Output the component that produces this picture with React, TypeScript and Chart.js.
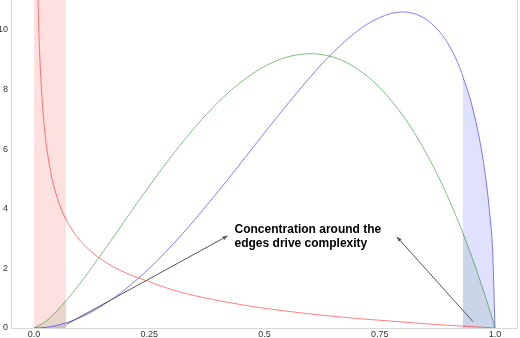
import React, { useEffect, useRef } from "react";
import { Chart, registerables } from "chart.js";

Chart.register(...registerables);

// ---- data ----
const curveX = [0, 0.025, 0.05, 0.07, 0.075, 0.1, 0.125, 0.15, 0.175, 0.2, 0.225, 0.25, 0.275, 0.3, 0.325, 0.35, 0.375, 0.4, 0.425, 0.45, 0.475, 0.5, 0.525, 0.55, 0.575, 0.6, 0.625, 0.65, 0.675, 0.7, 0.725, 0.75, 0.775, 0.8, 0.825, 0.85, 0.875, 0.9, 0.925, 0.93, 0.95, 0.975, 0.99, 0.995, 1];
const greenY = [0, 0.22, 0.58, 0.93, 1.02, 1.5, 2.02, 2.56, 3.11, 3.67, 4.22, 4.76, 5.29, 5.8, 6.28, 6.75, 7.18, 7.58, 7.94, 8.26, 8.54, 8.77, 8.96, 9.09, 9.17, 9.2, 9.17, 9.08, 8.93, 8.7, 8.42, 8.06, 7.63, 7.13, 6.55, 5.89, 5.15, 4.32, 3.4, 3.2, 2.38, 1.26, 0.53, 0.27, 0];
const blueY = [0, 0.02, 0.09, 0.18, 0.2, 0.35, 0.54, 0.77, 1.03, 1.32, 1.65, 2.0, 2.38, 2.79, 3.21, 3.66, 4.12, 4.59, 5.07, 5.56, 6.05, 6.55, 7.03, 7.51, 7.98, 8.43, 8.86, 9.26, 9.62, 9.94, 10.21, 10.41, 10.55, 10.6, 10.54, 10.36, 10.02, 9.49, 8.68, 8.45, 7.47, 5.57, 3.63, 2.59, 0];
const redX = [0.002, 0.004, 0.006, 0.008, 0.01, 0.0125, 0.015, 0.02, 0.025, 0.03, 0.04, 0.05, 0.06, 0.07, 0.08, 0.1, 0.125, 0.15, 0.175, 0.2, 0.25, 0.3, 0.35, 0.4, 0.45, 0.5, 0.55, 0.6, 0.65, 0.7, 0.75, 0.8, 0.85, 0.9, 0.95, 1];
const redY = [22.98, 16.22, 13.22, 11.42, 10.2, 9.1, 8.28, 7.14, 6.35, 5.77, 4.94, 4.38, 3.95, 3.62, 3.35, 2.93, 2.55, 2.26, 2.03, 1.84, 1.55, 1.28, 1.08, 0.92, 0.78, 0.66, 0.56, 0.47, 0.39, 0.32, 0.26, 0.2, 0.14, 0.09, 0.045, 0];

const xTicks = [0, 0.25, 0.5, 0.75, 1.0];
const xTickLabels = ["0.0", "0.25", "0.5", "0.75", "1.0"];
const yTicks = [0, 2, 4, 6, 8, 10];
const xRange = [-0.05, 1.05];
const yRange = [0, 11];

const bandLeft = [0, 0.07];
const bandRight = [0.93, 1.0];

const annotationLines = ["Concentration around the", "edges drive complexity"];
const annotationAnchor = [0.435, 3.29];
const arrowTails = [[0.07, 0.12], [0.952, 0.22]];
const arrowHeads = [[0.42, 3.09], [0.787, 3.06]];

// ---- styles ----
const RED = "rgba(255,0,0,0.5)";
const GREEN = "rgba(0,128,0,0.5)";
const BLUE = "rgba(0,0,255,0.5)";
const AXIS = "#d9d9d9";
const FONT = '"Liberation Sans", Arial, sans-serif';

const pts = (xs: number[], ys: number[]) => xs.map((x, i) => ({ x, y: ys[i] }));
const curvePts = (ys: number[], lo: number, hi: number) =>
  curveX.map((x, i) => ({ x, y: ys[i] })).filter((p) => p.x >= lo && p.x <= hi);

const lineDs = (label: string, data: any[], color: string) => ({
  label,
  data,
  borderColor: color,
  borderWidth: 1,
  pointRadius: 0,
  fill: false,
  cubicInterpolationMode: "monotone" as const,
});
const fillDs = (label: string, data: any[], color: string) => ({
  label,
  data,
  borderWidth: 0,
  borderColor: "rgba(0,0,0,0)",
  backgroundColor: color,
  pointRadius: 0,
  fill: "origin",
  cubicInterpolationMode: "monotone" as const,
});

const overlay = {
  id: "overlay",
  afterDatasetsDraw(chart: any) {
    const { ctx, chartArea, scales } = chart;
    const x = scales.x;
    const y = scales.y;
    ctx.save();
    // frame lines: left, bottom, right
    ctx.strokeStyle = AXIS;
    ctx.lineWidth = 1;
    ctx.beginPath();
    ctx.moveTo(chartArea.left + 0.5, chartArea.top);
    ctx.lineTo(chartArea.left + 0.5, chartArea.bottom + 0.5);
    ctx.lineTo(chartArea.right - 0.5, chartArea.bottom + 0.5);
    ctx.lineTo(chartArea.right - 0.5, chartArea.top);
    ctx.stroke();
    // arrows
    ctx.strokeStyle = "#555";
    ctx.fillStyle = "#555";
    arrowTails.forEach((t, i) => {
      const h = arrowHeads[i];
      const x0 = x.getPixelForValue(t[0]);
      const y0 = y.getPixelForValue(t[1]);
      const x1 = x.getPixelForValue(h[0]);
      const y1 = y.getPixelForValue(h[1]);
      ctx.beginPath();
      ctx.moveTo(x0, y0);
      ctx.lineTo(x1, y1);
      ctx.stroke();
      const a = Math.atan2(y1 - y0, x1 - x0);
      const L = 5;
      const W = 2;
      ctx.beginPath();
      ctx.moveTo(x1, y1);
      ctx.lineTo(x1 - L * Math.cos(a) + W * Math.sin(a), y1 - L * Math.sin(a) - W * Math.cos(a));
      ctx.lineTo(x1 - L * Math.cos(a) - W * Math.sin(a), y1 - L * Math.sin(a) + W * Math.cos(a));
      ctx.closePath();
      ctx.fill();
    });
    // annotation text
    ctx.fillStyle = "#000";
    ctx.font = "bold 12px " + FONT;
    ctx.textAlign = "left";
    ctx.textBaseline = "middle";
    const tx = x.getPixelForValue(annotationAnchor[0]);
    const ty = y.getPixelForValue(annotationAnchor[1]);
    annotationLines.forEach((s, i) => ctx.fillText(s, tx, ty + i * 13.5));
    ctx.restore();
  },
};

export default function App() {
  const ref = useRef<HTMLCanvasElement>(null);
  useEffect(() => {
    document.body.style.margin = "0";
    const yMax = yRange[1];
    const chart = new Chart(ref.current as HTMLCanvasElement, {
      type: "line",
      data: {
        datasets: [
          lineDs("red", pts(redX, redY), RED),
          lineDs("green", pts(curveX, greenY), GREEN),
          lineDs("blue", pts(curveX, blueY), BLUE),
          fillDs("redBand", bandLeft.map((bx) => ({ x: bx, y: yMax })), "rgba(255,0,0,0.12)"),
          fillDs("greenLeft", curvePts(greenY, bandLeft[0], bandLeft[1]), "rgba(0,128,0,0.1)"),
          fillDs("blueLeft", curvePts(blueY, bandLeft[0], bandLeft[1]), "rgba(0,0,255,0.12)"),
          fillDs("blueRight", curvePts(blueY, bandRight[0], bandRight[1]), "rgba(0,0,255,0.12)"),
          fillDs("greenRight", curvePts(greenY, bandRight[0], bandRight[1]), "rgba(0,128,0,0.1)"),
        ] as any,
      },
      options: {
        animation: false,
        responsive: false,
        layout: { padding: { left: 0, right: 2, top: 0, bottom: 0 } },
        plugins: { legend: { display: false }, tooltip: { enabled: false }, title: { display: false } },
        scales: {
          x: {
            type: "linear",
            min: xRange[0],
            max: xRange[1],
            grid: { display: false, drawTicks: false },
            border: { display: false },
            afterBuildTicks: (s: any) => {
              s.ticks = xTicks.map((v) => ({ value: v }));
            },
            afterFit: (s: any) => {
              s.height = 10;
              s.paddingLeft = 0;
              s.paddingRight = 0;
            },
            ticks: {
              autoSkip: false,
              maxRotation: 0,
              padding: 1,
              color: "#333",
              font: { family: FONT, size: 9 },
              callback: (_v: any, i: number) => xTickLabels[i],
            },
          },
          y: {
            type: "linear",
            min: yRange[0],
            max: yRange[1],
            grid: { display: false, drawTicks: false },
            border: { display: false },
            afterBuildTicks: (s: any) => {
              s.ticks = yTicks.map((v) => ({ value: v }));
            },
            afterFit: (s: any) => {
              s.width = 11;
              s.paddingTop = 0;
              s.paddingBottom = 0;
            },
            ticks: {
              padding: 3,
              color: "#333",
              font: { family: FONT, size: 9 },
              callback: (v: any) => String(v),
            },
          },
        },
      },
      plugins: [overlay],
    } as any);
    return () => chart.destroy();
  }, []);
  return (
    <div style={{ position: "absolute", left: 0, top: 0, width: 520, height: 338 }}>
      <canvas ref={ref} width={520} height={338} style={{ display: "block" }} />
    </div>
  );
}
